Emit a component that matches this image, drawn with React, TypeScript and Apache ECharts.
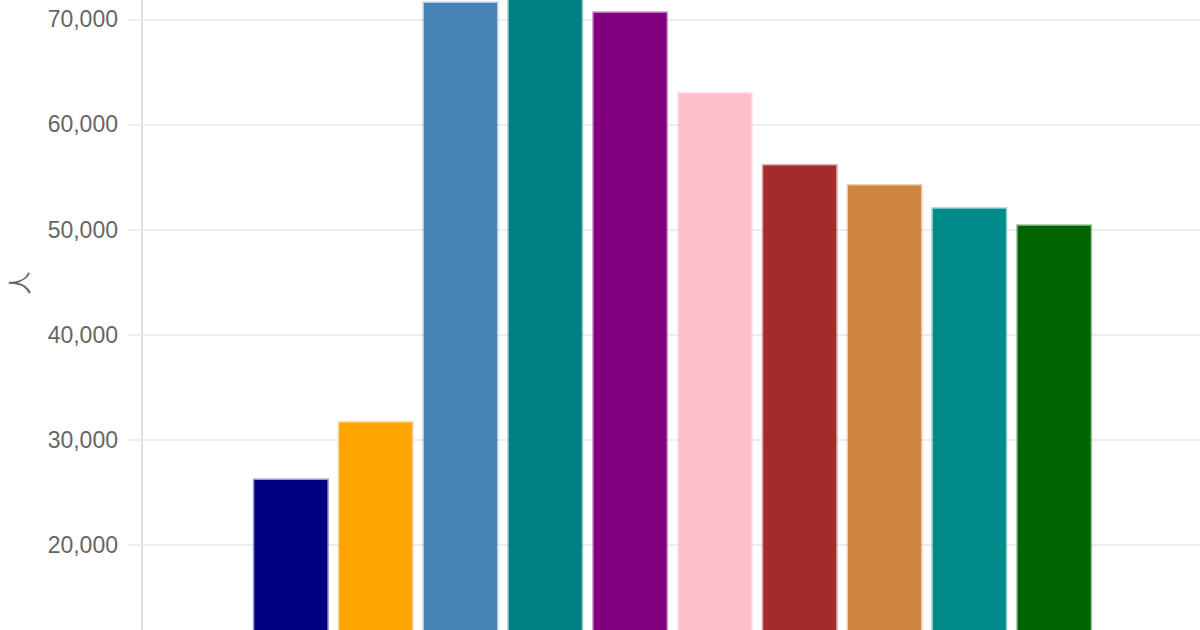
import React, { useEffect, useRef } from "react";
import * as echarts from "echarts";

const seriesNames = ["S1", "S2", "S3", "S4", "S5", "S6", "S7", "S8", "S9", "S10"];
const seriesValues = [26340, 31800, 71700, 73500, 70760, 63100, 56230, 54330, 52130, 50510];
const seriesColors = ["#000080", "#FFA500", "#4682B4", "#008080", "#800080", "#FFC0CB", "#A52A2A", "#CD853F", "#008B8B", "#006400"];
const categories = [""];
const yAxisName = "人";

function withAlpha(hex: string, a: number) {
  const r = parseInt(hex.slice(1, 3), 16);
  const g = parseInt(hex.slice(3, 5), 16);
  const b = parseInt(hex.slice(5, 7), 16);
  return `rgba(${r},${g},${b},${a})`;
}

export default function App() {
  const ref = useRef<HTMLDivElement>(null);
  useEffect(() => {
    if (!ref.current) return;
    const chart = echarts.init(ref.current, null, { renderer: "svg" });
    const font = "'Liberation Sans', Arial, sans-serif";
    chart.setOption({
      animation: false,
      backgroundColor: "#ffffff",
      grid: { left: 142, right: 0, top: 100, bottom: 53.6, containLabel: false, outerBoundsMode: "none" },
      xAxis: {
        type: "category",
        data: categories,
        axisLine: { show: false },
        axisTick: { show: false },
        axisLabel: { show: false },
      },
      yAxis: {
        type: "value",
        min: 0,
        max: 90000,
        interval: 10000,
        name: yAxisName,
        nameLocation: "middle",
        nameGap: 112,
        nameTextStyle: { color: "#666", fontSize: 23, fontFamily: font },
        axisLine: { show: true, lineStyle: { color: "#dddddd", width: 2 } },
        axisTick: { show: true, length: 14, lineStyle: { color: "#eeeeee", width: 2 } },
        axisLabel: {
          color: "#666",
          fontSize: 23,
          fontFamily: font,
          margin: 24,
          formatter: (v: number) => v.toLocaleString("en-US"),
        },
        splitLine: { show: true, lineStyle: { color: "#eeeeee", width: 2 } },
      },
      series: seriesNames.map((name, i) => ({
        type: "bar",
        name,
        data: [seriesValues[i]],
        barWidth: 76,
        barGap: "11.6%",
        itemStyle: {
          color: seriesColors[i],
          borderColor: withAlpha(seriesColors[i], 0.4),
          borderWidth: 3,
        },
      })),
    });
    return () => chart.dispose();
  }, []);
  return (
    <div style={{ position: "fixed", left: 0, top: 0, width: 1200, height: 630, overflow: "hidden", background: "#fff" }}>
      <div ref={ref} style={{ position: "absolute", left: 0, top: -291, width: 1203, height: 1100 }} />
    </div>
  );
}
